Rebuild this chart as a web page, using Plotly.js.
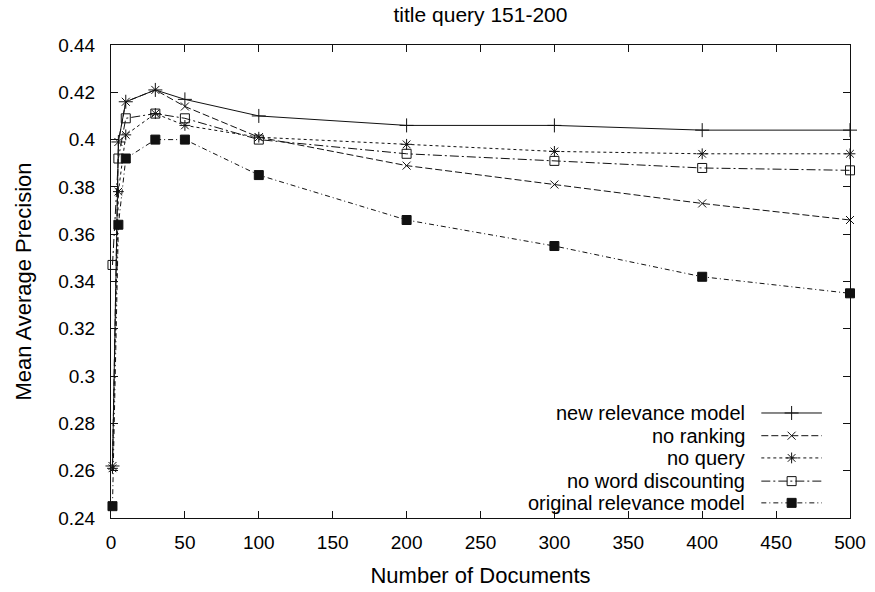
<!DOCTYPE html>
<html>
<head>
<meta charset="utf-8">
<script src="https://cdn.plot.ly/plotly-3.0.1.min.js"></script>
<style>html,body{margin:0;padding:0;background:#fff;}#chart{width:875px;height:592px;}</style>
</head>
<body>
<div id="chart"></div>
<script>
// ---- data ----
const docs = [1, 5, 10, 30, 50, 100, 200, 300, 400, 500];
const newRelevanceModel = [0.262, 0.399, 0.416, 0.421, 0.417, 0.410, 0.406, 0.406, 0.404, 0.404];
const noRanking = [0.262, 0.399, 0.416, 0.421, 0.414, 0.401, 0.389, 0.381, 0.373, 0.366];
const noQuery = [0.261, 0.378, 0.402, 0.411, 0.406, 0.401, 0.398, 0.395, 0.394, 0.394];
const noWordDiscounting = [0.347, 0.392, 0.409, 0.411, 0.409, 0.400, 0.394, 0.391, 0.388, 0.387];
const originalRelevanceModel = [0.245, 0.364, 0.392, 0.400, 0.400, 0.385, 0.366, 0.355, 0.342, 0.335];
const seriesNames = ["new relevance model", "no ranking", "no query", "no word discounting", "original relevance model"];
const xTickVals = [0, 50, 100, 150, 200, 250, 300, 350, 400, 450, 500];
const xTickText = ["0", "50", "100", "150", "200", "250", "300", "350", "400", "450", "500"];
const yTickVals = [0.24, 0.26, 0.28, 0.30, 0.32, 0.34, 0.36, 0.38, 0.40, 0.42, 0.44];
const yTickText = ["0.24", "0.26", "0.28", "0.3", "0.32", "0.34", "0.36", "0.38", "0.4", "0.42", "0.44"];

// ---- styles ----
const seriesValues = [newRelevanceModel, noRanking, noQuery, noWordDiscounting, originalRelevanceModel];
const styles = [
  {dash: "solid", symbol: "cross-thin-open", size: 10},
  {dash: "7px,3px", symbol: "x-thin-open", size: 8},
  {dash: "3px,3px", symbol: "asterisk-open", size: 9},
  {dash: "9px,3px,2px,3px", symbol: "square-open", size: 9},
  {dash: "5px,3px,1px,3px", symbol: "square", size: 9}
];
const FONT = "Liberation Sans, Arial, sans-serif";
const ink = "#111";

const traces = [];
seriesValues.forEach((vals, i) => {
  traces.push({
    type: "scatter", mode: "lines+markers", x: docs, y: vals, name: seriesNames[i],
    line: {color: ink, width: 1, dash: styles[i].dash},
    marker: {symbol: styles[i].symbol, size: styles[i].size, color: ink, line: {color: ink, width: 1}},
    cliponaxis: false, showlegend: false, hoverinfo: "skip"
  });
});

// ---- legend (drawn in a 0..1 overlay axis, samples to the right of the labels) ----
const legendRows = [0.222, 0.174, 0.127, 0.078, 0.032];
const legendLineX = [0.880, 0.962];
const legendMarkX = 0.921;
const legendTextX = 0.859;
const annotations = [];
seriesNames.forEach((name, i) => {
  traces.push({
    type: "scatter", mode: "lines", xaxis: "x2", yaxis: "y2",
    x: legendLineX, y: [legendRows[i], legendRows[i]],
    line: {color: ink, width: 1, dash: styles[i].dash}, showlegend: false, hoverinfo: "skip"
  });
  traces.push({
    type: "scatter", mode: "markers", xaxis: "x2", yaxis: "y2",
    x: [legendMarkX], y: [legendRows[i]],
    marker: {symbol: styles[i].symbol, size: styles[i].size, color: ink, line: {color: ink, width: 1}},
    showlegend: false, hoverinfo: "skip"
  });
  annotations.push({
    xref: "paper", yref: "paper", x: legendTextX, y: legendRows[i],
    xanchor: "right", yanchor: "middle", showarrow: false, borderpad: 0,
    text: name, font: {family: FONT, size: 20, color: "#000"}
  });
});

const layout = {
  width: 875, height: 592,
  margin: {l: 111, r: 25, t: 45, b: 74},
  paper_bgcolor: "#fff", plot_bgcolor: "#fff",
  showlegend: false,
  title: {text: "title query 151-200", xref: "paper", x: 0.5, xanchor: "center", y: 0.976, yanchor: "middle",
          font: {family: FONT, size: 21, color: "#000"}},
  xaxis: {
    range: [0, 500], tickvals: xTickVals, ticktext: xTickText,
    ticks: "inside", ticklen: 7, tickwidth: 1, tickcolor: ink,
    showline: true, linecolor: ink, linewidth: 1, mirror: "ticks",
    showgrid: false, zeroline: false, ticklabelstandoff: 7,
    tickfont: {family: FONT, size: 19, color: "#000"},
    title: {text: "Number of Documents", font: {family: FONT, size: 22, color: "#000"}, standoff: 15}
  },
  yaxis: {
    range: [0.24, 0.44], tickvals: yTickVals, ticktext: yTickText,
    ticks: "inside", ticklen: 7, tickwidth: 1, tickcolor: ink,
    showline: true, linecolor: ink, linewidth: 1, mirror: "ticks",
    showgrid: false, zeroline: false, ticklabelstandoff: 11,
    tickfont: {family: FONT, size: 19, color: "#000"},
    title: {text: "Mean Average Precision", font: {family: FONT, size: 22, color: "#000"}, standoff: 20}
  },
  xaxis2: {overlaying: "x", range: [0, 1], visible: false, fixedrange: true},
  yaxis2: {overlaying: "y", range: [0, 1], visible: false, fixedrange: true},
  annotations: annotations
};

Plotly.newPlot("chart", traces, layout, {staticPlot: true, displayModeBar: false});
</script>
</body>
</html>
